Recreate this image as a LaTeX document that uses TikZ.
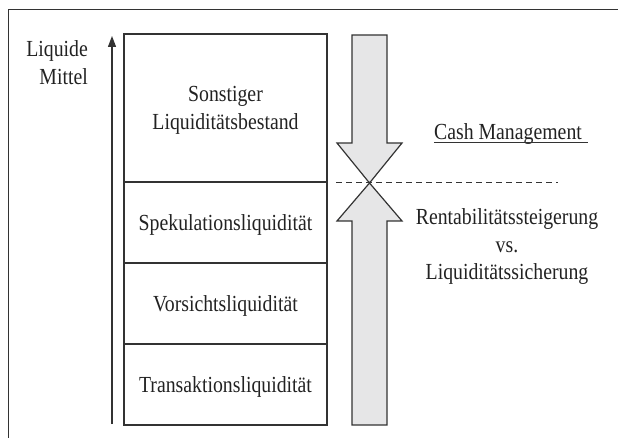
\documentclass[tikz,border=0pt]{standalone}
\usepackage{fontspec}
\setmainfont{Liberation Serif}[FakeStretch=0.86]
\usetikzlibrary{arrows.meta}
\definecolor{ink}{HTML}{222222}
\definecolor{linec}{HTML}{333333}
\definecolor{arrowfill}{HTML}{E6E6E7}
\tikzset{
  txt/.style={text=ink, inner sep=0pt},
  sect/.style={draw=linec, line width=1.3pt, minimum width=203pt, inner sep=0pt},
  secttext/.style={txt, align=center, yshift=-2.5pt},
  bigarrow/.style={draw=linec, line width=1.2pt, fill=arrowfill, line join=miter},
  frameline/.style={draw=linec, line width=1pt},
}
\begin{document}
\begin{tikzpicture}[x=1pt,y=-1pt, font=\fontsize{23}{27.5}\selectfont]
\useasboundingbox (0,0) rectangle (618,438);
% frame
\draw[frameline] (8,438) -- (8,10) -- (618,10);
% left label
\node[txt, anchor=base east] (liq) at (88,57) {Liquide};
\node[txt, anchor=base east] (mit) at (88,85) {Mittel};
% axis
\coordinate (ax0) at (112,424);
\coordinate (ax1) at (112,36);
\draw[linec, line width=1.3pt, -{Triangle[length=11pt,width=8pt]}] (ax0) -- (ax1);
% stacked boxes
\node[sect, minimum height=148pt, label={[secttext]center:Sonstiger\\Liquiditätsbestand}] (s1) at (225.5,108) {};
\node[sect, minimum height=81pt, label={[secttext]center:Spekulationsliquidität}] (s2) at (225.5,222.5) {};
\node[sect, minimum height=81pt, label={[secttext]center:Vorsichtsliquidität}] (s3) at (225.5,303.5) {};
\node[sect, minimum height=81pt, label={[secttext]center:Transaktionsliquidität}] (s4) at (225.5,384.5) {};
% big arrows
\coordinate (tip) at (369.5,183);
\draw[bigarrow] (352,35) -- (387,35) -- (387,143) -- (402,143) -- (tip) -- (337,143) -- (352,143) -- cycle;
\draw[bigarrow] (352,425) -- (387,425) -- (387,221) -- (402,221) -- (tip) -- (337,221) -- (352,221) -- cycle;
% dashed line
\coordinate (d0) at (336,183);
\coordinate (d1) at (558,183);
\draw[linec, line width=1pt, dash pattern=on 6pt off 4pt] (d0) -- (d1);
% right texts
\node[txt, anchor=base] (cm) at (508,140) {Cash Management};
\draw[linec, line width=1pt] ([yshift=-2.5pt]cm.base west) -- ([xshift=6pt,yshift=-2.5pt]cm.base east);
\node[txt, align=center] (rs) at (507,247) {Rentabilitätssteigerung\\vs.\\Liquiditätssicherung};
\end{tikzpicture}
\end{document}
